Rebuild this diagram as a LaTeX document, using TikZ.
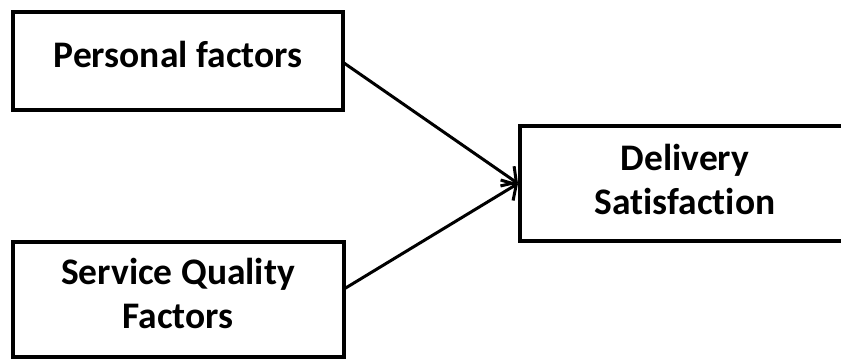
\documentclass[tikz,border=0pt]{standalone}
\usepackage{fontspec}
\setmainfont[Ligatures={NoCommon}]{Carlito}
\usetikzlibrary{arrows.meta}
\begin{document}
\begin{tikzpicture}[x=1pt,y=-1pt,
  box/.style={draw=black,line width=4pt,rectangle,inner sep=0pt,minimum width=#1},
  lbl/.style={font=\fontsize{37.5}{43.5}\selectfont\bfseries,align=center,inner sep=0pt,anchor=base},
  conn/.style={line width=3pt,-{Straight Barb[length=11pt,width=24pt,line width=3pt]}}]
\useasboundingbox (0,0) rectangle (841,360);
\node[box=330pt,minimum height=98pt] (pf) at (178,61) {};
\node[box=331pt,minimum height=115pt] (sq) at (178.5,299.5) {};
\node[box=340pt,minimum height=115pt] (ds) at (690,183.5) {};
\node[lbl] (pft) at (178,67) {Personal factors};
\node[lbl] (sqt) at (178,328) {Service Quality\\Factors};
\node[lbl] (dst) at (685,214) {Delivery\\Satisfaction};
\coordinate (s1) at (344,63);
\coordinate (s2) at (344,289);
\draw[conn] (s1) -- (ds.west);
\draw[conn] (s2) -- (ds.west);
\end{tikzpicture}
\end{document}
